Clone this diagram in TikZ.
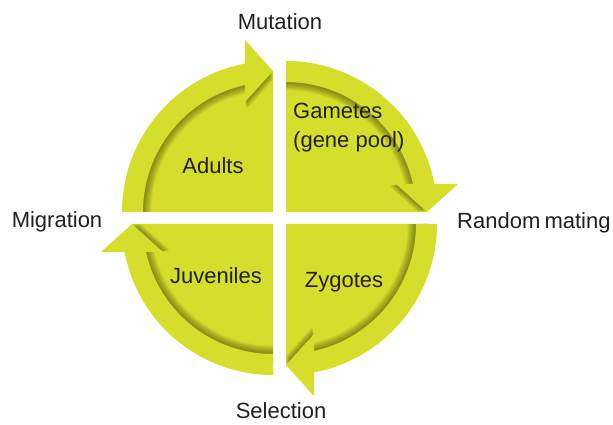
\documentclass[tikz,border=0pt]{standalone}
\usepackage{fontspec}
\setmainfont{Liberation Sans}
\definecolor{leaf}{RGB}{214,222,44}
\definecolor{ink}{RGB}{35,31,32}
\definecolor{shadecol}{RGB}{40,40,0}
% band + arrow head of one quarter, drawn in the orientation of the upper-left quarter
\def\bandpath{(-151,0) arc[start angle=180,end angle=100.69,radius=151]
  -- (-28,172) -- (0,141) -- (-28,110) -- (-28,126.95)
  arc[start angle=102.44,end angle=180,radius=130] -- cycle}
\def\bodypath{(0,0) -- (-141,0) arc[start angle=180,end angle=90,radius=141] -- cycle}
\newcommand\quadpiece[2]{%
  \begin{scope}[shift={#1},rotate=#2]
    \fill[leaf] \bodypath;
    \begin{scope}
      \clip \bodypath;
      \foreach \s in {0.992,0.984,0.976,0.968,0.960,0.952,0.944,0.936}{
        \fill[shadecol,opacity=0.065,scale=\s] \bandpath;}
    \end{scope}
    \fill[leaf] \bandpath;
  \end{scope}}
\tikzset{
  lbl/.style={text=ink,font=\fontsize{22}{29}\selectfont,inner sep=0pt},
}
\begin{document}
\begin{tikzpicture}[x=1pt,y=1pt]
  \useasboundingbox (0,0) rectangle (613,425);
  \fill[white] (0,0) rectangle (613,425);
  \quadpiece{(273,213)}{0}
  \quadpiece{(286,213)}{-90}
  \quadpiece{(286,201)}{180}
  \quadpiece{(273,201)}{90}
  \node[lbl,anchor=base] (adults) at (213,251) {Adults};
  \node[lbl,anchor=base west,align=left] (gametes) at (293,277) {Gametes\\(gene pool)};
  \node[lbl,anchor=base] (juveniles) at (216,141) {Juveniles};
  \node[lbl,anchor=base] (zygotes) at (344,137) {Zygotes};
  \node[lbl,anchor=base] (mutation) at (280,395) {Mutation};
  \node[lbl,anchor=base] (migration) at (57,197) {Migration};
  \node[lbl,anchor=base west] (random) at (457,196) {Random\hspace{4.2pt}mating};
  \node[lbl,anchor=base] (selection) at (281,6) {Selection};
\end{tikzpicture}
\end{document}
